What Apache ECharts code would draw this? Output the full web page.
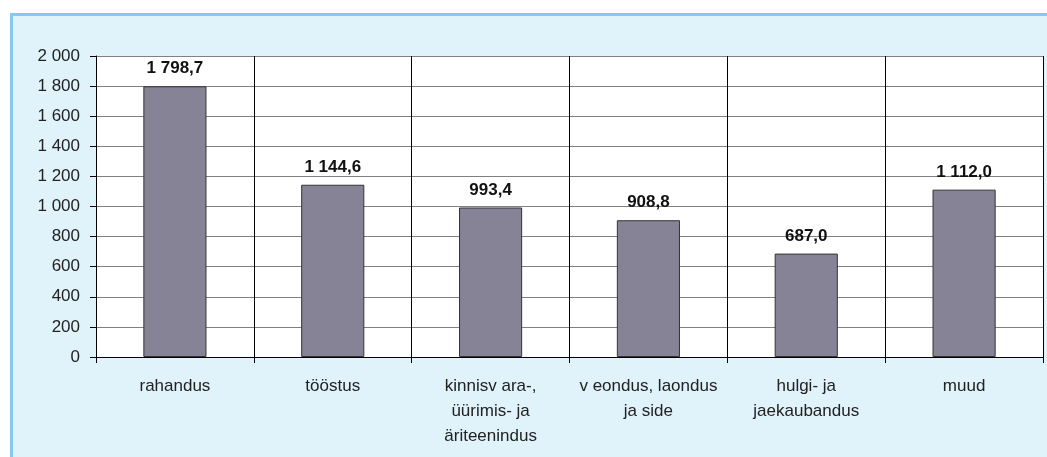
<!DOCTYPE html>
<html lang="et">
<head>
  <meta charset="UTF-8">
  <title>Chart</title>
  <script src="https://cdn.jsdelivr.net/npm/echarts@6/dist/echarts.min.js"></script>
  <style>
    html, body { margin: 0; padding: 0; background: #fff; }
    #panel {
      position: absolute; left: 10px; top: 13px; width: 1037px; height: 444px;
      background: #e0f2fa; border-left: 3px solid #86c8ee; border-top: 3px solid #86c8ee;
      box-sizing: border-box;
    }
    #chart { position: absolute; left: 0; top: 0; width: 1047px; height: 457px; }
  </style>
</head>
<body>
  <div id="panel"></div>
  <div id="chart"></div>
<script>
  const categories = [
    'rahandus',
    'tööstus',
    'kinnisv ara-,\nüürimis- ja\näriteenindus',
    'v eondus, laondus\nja side',
    'hulgi- ja\njaekaubandus',
    'muud'
  ];
  const values = [1798.7, 1144.6, 993.4, 908.8, 687.0, 1112.0];

  // 1 798,7 style numbers
  function fmt(v, dec) {
    let s = v.toFixed(dec);
    let parts = s.split('.');
    let int = parts[0].replace(/\B(?=(\d{3})+(?!\d))/g, ' ');
    return parts.length > 1 ? int + ',' + parts[1] : int;
  }

  let myChart = echarts.init(document.getElementById('chart'), null, { renderer: 'canvas' });
  let option = {
    backgroundColor: 'transparent',
    animation: false,
    textStyle: { fontFamily: 'Liberation Sans, Arial, sans-serif' },
    grid: { left: 96, right: 4, top: 56, bottom: 100, show: true, backgroundColor: '#fff', borderWidth: 0 },
    xAxis: {
      type: 'category',
      data: categories,
      axisLine: { lineStyle: { color: '#000', width: 1 } },
      axisTick: { show: true, length: 6, lineStyle: { color: '#000' } },
      splitLine: { show: true, lineStyle: { color: '#000', width: 1 } },
      axisLabel: { color: '#222', fontSize: 17, lineHeight: 25, margin: 17, interval: 0 }
    },
    yAxis: {
      type: 'value',
      min: 0, max: 2000, interval: 200,
      axisLine: { show: true, lineStyle: { color: '#000' } },
      axisTick: { show: true, length: 6, lineStyle: { color: '#000' } },
      splitLine: { show: true, lineStyle: { color: '#808080', width: 1 } },
      axisLabel: { color: '#222', fontSize: 17, margin: 16, formatter: (v) => fmt(v, 0) }
    },
    series: [{
      type: 'bar',
      data: values,
      barWidth: '40%',
      itemStyle: { color: '#868396', borderColor: '#333', borderWidth: 1 },
      label: {
        show: true, position: 'top', distance: 9,
        color: '#111', fontWeight: 'bold', fontSize: 17,
        formatter: (p) => fmt(p.value, 1)
      }
    }]
  };
  myChart.setOption(option);
</script>
</body>
</html>
